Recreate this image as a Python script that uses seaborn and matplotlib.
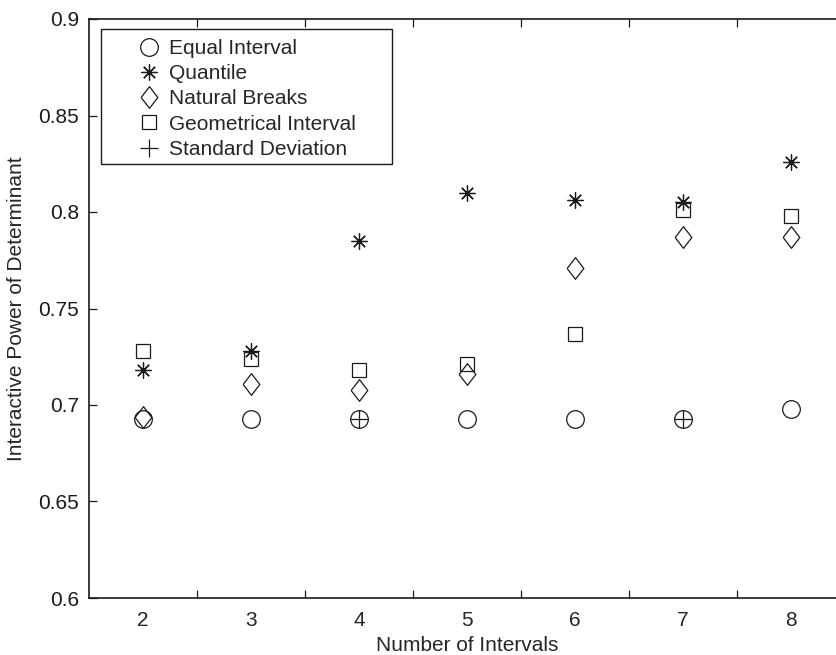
import numpy as np
import pandas as pd
import matplotlib
matplotlib.use("Agg")
import matplotlib.pyplot as plt
import seaborn as sns
from matplotlib.lines import Line2D
from matplotlib.patches import Rectangle
from matplotlib.legend_handler import HandlerLine2D

# ===================== DATA =====================
intervals = [2, 3, 4, 5, 6, 7, 8]
equal_interval = [0.693, 0.693, 0.693, 0.693, 0.693, 0.693, 0.698]
quantile = [0.718, 0.728, 0.785, 0.810, 0.806, 0.805, 0.826]
natural_breaks = [0.694, 0.711, 0.708, 0.716, 0.771, 0.787, 0.787]
geometrical_interval = [0.728, 0.724, 0.718, 0.721, 0.737, 0.801, 0.798]
std_intervals = [4, 7]
standard_deviation = [0.693, 0.693]

y_ticks = [0.6, 0.65, 0.7, 0.75, 0.8, 0.85, 0.9]
y_ticklabels = ["0.6", "0.65", "0.7", "0.75", "0.8", "0.85", "0.9"]

# ===================== STYLE =====================
sns.set_style("ticks")
plt.rcParams['font.family'] = ['Liberation Sans', 'DejaVu Sans']
FS = 15
ink = "#1a1a1a"

diamond = [(-0.77, 0), (0, 1), (0.77, 0), (0, -1), (-0.77, 0)]
series = [
    ("Equal Interval", intervals, equal_interval, "o", 12.7),
    ("Quantile", intervals, quantile, (8, 2, 0), 11.5),
    ("Natural Breaks", intervals, natural_breaks, diamond, 15.6),
    ("Geometrical Interval", intervals, geometrical_interval, "s", 10.6),
    ("Standard Deviation", std_intervals, standard_deviation, "+", 12.5),
]

fig = plt.figure(figsize=(8.37, 6.55), dpi=100)
# axes run a bit past the right edge, as in the (cropped) original
ax = fig.add_axes([89 / 837, 57 / 655, (845 - 89) / 837, (598 - 19) / 655])

for name, xs, ys, mk, ms in series:
    df = pd.DataFrame({"x": xs, "y": ys})
    sns.lineplot(data=df, x="x", y="y", ax=ax, errorbar=None, linestyle="",
                 marker=mk, markersize=ms, markerfacecolor="none",
                 markeredgecolor=ink, markeredgewidth=0.9,
                 color=ink, label=name, legend=False)

# ---- axes ----
ax.set_xlim(1.5, 8.5)
ax.set_ylim(0.6, 0.9)
ax.set_xticks(np.arange(2.5, 8.0, 1.0))
ax.set_xticklabels([])
ax.set_xticks(intervals, minor=True)
ax.set_xticklabels([str(i) for i in intervals], minor=True)
ax.set_yticks(y_ticks)
ax.set_yticklabels(y_ticklabels)
ax.tick_params(axis="both", which="major", direction="in", length=6, width=0.9,
               top=True, right=True, colors=ink, labelsize=FS, pad=7)
ax.tick_params(axis="x", which="minor", length=0, labelsize=FS, pad=9)
for sp in ax.spines.values():
    sp.set_linewidth(1.2)
    sp.set_color(ink)
    sp.set_visible(True)

ax.set_xlabel("Number of Intervals", fontsize=FS, labelpad=5)
ax.set_ylabel("Interactive Power of Determinant", fontsize=FS, labelpad=9)


# ---- legend: marker sits closer to the label, wide frame like MATLAB ----
class MarkerRight(HandlerLine2D):
    def get_xdata(self, legend, xdescent, ydescent, width, height, fontsize):
        return [-xdescent + 0.49 * width, -xdescent + width], [-xdescent + 0.745 * width]


leg = ax.legend(loc="upper left", fontsize=FS, borderaxespad=0.66,
                borderpad=0.3, handlelength=2.585, handletextpad=0.3,
                labelspacing=0.3, frameon=False,
                handler_map={Line2D: MarkerRight()})
leg.set_zorder(6)

frame = Rectangle((0.0155, 0.7496), 0.385, 0.2326, transform=ax.transAxes,
                  facecolor="white", edgecolor=ink, linewidth=1.0, zorder=5)
ax.add_patch(frame)

fig.savefig("out.png", dpi=100)
